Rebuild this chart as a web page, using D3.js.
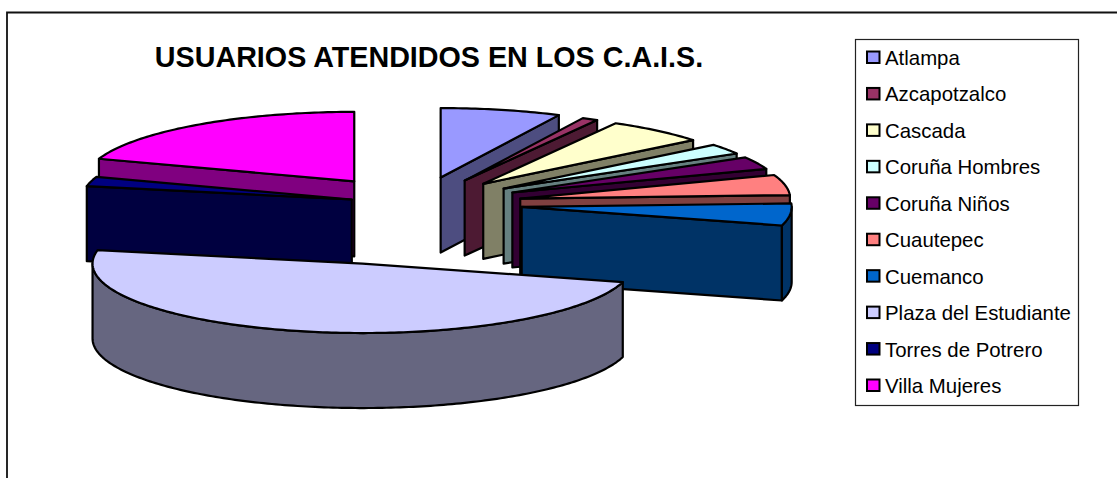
<!DOCTYPE html>
<html>
<head>
<meta charset="utf-8">
<script src="https://cdn.jsdelivr.net/npm/d3@7"></script>
<style>
  html, body { margin: 0; padding: 0; background: #fff; }
  svg { display: block; }
  text { font-family: "Liberation Sans", Arial, sans-serif; fill: #000; }
</style>
</head>
<body>
<div id="chart"></div>
<script>
// Data (share of users, %)
var centros = ["Atlampa", "Azcapotzalco", "Cascada", "Coruña Hombres", "Coruña Niños", "Cuautepec", "Cuemanco", "Plaza del Estudiante", "Torres de Potrero", "Villa Mujeres"];
var usuarios = [7.2, 0.95, 6.0, 2.4, 2.9, 4.7, 5.1, 48.7, 2.2, 19.7];
var colores = ["#9999ff", "#993366", "#ffffcc", "#ccffff", "#660066", "#ff8080", "#0066cc", "#ccccff", "#000080", "#ff00ff"];
var separacion = [0.39, 0.38, 0.38, 0.39, 0.39, 0.39, 0.39, 0.88, 0.25, 0.4];
var titulo = "USUARIOS ATENDIDOS EN LOS C.A.I.S.";

// Set up chart area
var svgWidth = 1117;
var svgHeight = 478;

var svg = d3.select("#chart")
  .append("svg")
  .attr("width", svgWidth)
  .attr("height", svgHeight);

// Chart frame, open on the right and at the bottom
svg.append("path")
  .attr("d", "M7,478V12.5H1117")
  .attr("fill", "none")
  .attr("stroke", "#111")
  .attr("stroke-width", 1.8);

svg.append("text")
  .attr("x", 429)
  .attr("y", 67)
  .attr("text-anchor", "middle")
  .attr("font-size", 28.7)
  .attr("font-weight", "bold")
  .text(titulo);

// Pie geometry: the tilted disc is an ellipse, the walls hang below it
var cx = 417, cy = 204, rx = 270, ry = 69.5, depth = 75;

var color = d3.scaleOrdinal().domain(centros).range(colores);
var line = d3.line();

var pie = d3.pie().sort(null).value(function (d, i) { return usuarios[i]; });
var slices = pie(centros).map(function (s, i) {
  var mid = (s.startAngle + s.endAngle) / 2;
  return {
    name: centros[i],
    a0: s.startAngle,
    a1: s.endAngle,
    x: cx + separacion[i] * rx * Math.sin(mid),
    y: cy - separacion[i] * ry * Math.cos(mid)
  };
});

function rim(d, a) {
  return [d.x + rx * Math.sin(a), d.y - ry * Math.cos(a)];
}

function arcPoints(d, a0, a1) {
  var n = Math.max(2, Math.ceil((a1 - a0) * 60));
  return d3.range(n + 1).map(function (k) { return rim(d, a0 + (a1 - a0) * k / n); });
}

function drop(p) {
  return [p[0], p[1] + depth];
}

function wallColor(name) {
  var c = d3.rgb(color(name));
  return d3.rgb(c.r / 2, c.g / 2, c.b / 2).formatHex();
}

// Walls that face the viewer, then the top of the slice
function drawSlice(d) {
  var g = svg.append("g")
    .attr("stroke", "#000")
    .attr("stroke-width", 2.2)
    .attr("stroke-linejoin", "round");
  var apex = [d.x, d.y];
  var shade = wallColor(d.name);

  function wall(points) {
    g.append("path")
      .attr("d", line(points.concat(points.slice().reverse().map(drop))) + "Z")
      .attr("fill", shade);
  }

  if (d.a0 > Math.PI) wall([apex, rim(d, d.a0)]);
  if (d.a1 < Math.PI) wall([apex, rim(d, d.a1)]);

  var from = Math.max(d.a0, Math.PI / 2);
  var to = Math.min(d.a1, Math.PI * 1.5);
  if (to > from) wall(arcPoints(d, from, to));

  g.append("path")
    .attr("d", line([apex].concat(arcPoints(d, d.a0, d.a1))) + "Z")
    .attr("fill", color(d.name));
}

// Back slices first: right side fans out, left side ends with the big slice
var orden = [0, 1, 2, 3, 4, 5, 6, 9, 8, 7];
orden.forEach(function (i) { drawSlice(slices[i]); });

// Legend
var legend = svg.append("g");

legend.append("rect")
  .attr("x", 855.5)
  .attr("y", 39.5)
  .attr("width", 223)
  .attr("height", 366)
  .attr("fill", "#fff")
  .attr("stroke", "#222")
  .attr("stroke-width", 1.2);

var y = d3.scalePoint().domain(centros).range([58, 386]);

var items = legend.selectAll("g.item")
  .data(centros)
  .enter()
  .append("g")
  .attr("class", "item")
  .attr("transform", function (d) { return "translate(0," + y(d) + ")"; });

items.append("rect")
  .attr("x", 867)
  .attr("y", -6.5)
  .attr("width", 12.5)
  .attr("height", 11.5)
  .attr("fill", function (d) { return color(d); })
  .attr("stroke", "#000")
  .attr("stroke-width", 2);

items.append("text")
  .attr("x", 885)
  .attr("y", 7)
  .attr("font-size", 20.4)
  .text(function (d) { return d; });
</script>
</body>
</html>
